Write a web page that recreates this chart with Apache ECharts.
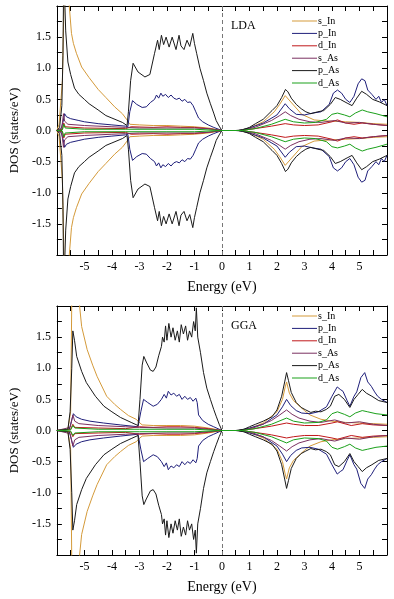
<!DOCTYPE html>
<html>
<head>
<meta charset="utf-8">
<script src="https://cdn.jsdelivr.net/npm/echarts@6/dist/echarts.min.js"></script>
<style>
html,body{margin:0;padding:0;background:#fff;}
#dosChart{width:394px;height:599px;}
</style>
</head>
<body>
<div id="dosChart"></div>
<script>
// names / colours of the partial DOS
var pdosNames=['s_In','p_In','d_In','s_As','p_As','d_As'];
var pdosColors=['#d49a3a','#1f1f7a','#c0181a','#7a3060','#1a1a1a','#1aa01a'];
var panelTitles=['LDA','GGA'];

// LDA, spin up  [energy, dos]
var lda_sIn=[[-6,0],[-5.92,0.1],[-5.8,0.8],[-5.72,2.5],[-5.62,2.6],[-5.55,2.0],[-5.47,1.56],[-5.4,1.4],[-5.29,1.24],[-5.1,1.02],[-4.83,0.85],[-4.5,0.66],[-4.22,0.53],[-3.9,0.38],[-3.62,0.27],[-3.45,0.17],[-3.35,0.1],[-3,0.09],[-2.5,0.08],[-2,0.08],[-1.5,0.07],[-1,0.06],[-0.5,0.04],[0,0],[0.6,0],[1.0,0.04],[1.5,0.14],[1.9,0.3],[2.1,0.42],[2.3,0.56],[2.6,0.41],[2.9,0.26],[3.35,0.17],[3.6,0.16],[4.0,0.15],[4.5,0.14],[5,0.13],[5.5,0.11],[6,0.1]];
var lda_pIn=[[-6,0],[-5.85,0.02],[-5.77,0.15],[-5.72,0.27],[-5.65,0.22],[-5.5,0.19],[-5.2,0.16],[-5,0.14],[-4.5,0.11],[-4,0.09],[-3.5,0.07],[-3.42,0.06],[-3.35,0.3],[-3.25,0.48],[-3.1,0.42],[-2.9,0.37],[-2.75,0.38],[-2.6,0.45],[-2.45,0.5],[-2.38,0.57],[-2.3,0.52],[-2.22,0.6],[-2.15,0.55],[-2.05,0.58],[-1.95,0.53],[-1.85,0.57],[-1.75,0.52],[-1.65,0.5],[-1.55,0.52],[-1.45,0.47],[-1.35,0.5],[-1.25,0.45],[-1.15,0.46],[-1.05,0.4],[-1.0,0.42],[-0.95,0.3],[-0.85,0.2],[-0.7,0.14],[-0.5,0.09],[-0.3,0.05],[0,0],[0.6,0],[1.0,0.04],[1.5,0.12],[2.0,0.25],[2.3,0.43],[2.45,0.35],[2.7,0.26],[3.0,0.25],[3.3,0.28],[3.6,0.3],[3.9,0.42],[4.05,0.6],[4.2,0.65],[4.35,0.6],[4.5,0.5],[4.65,0.45],[4.8,0.55],[4.95,0.75],[5.08,0.83],[5.2,0.8],[5.3,0.65],[5.45,0.58],[5.6,0.5],[5.7,0.55],[5.8,0.45],[5.9,0.5],[6,0.4]];
var lda_dIn=[[-6,0],[-5.8,0.02],[-5.75,0.12],[-5.7,0.06],[-5,0.04],[-3.5,0.03],[-3.3,0.06],[-2.5,0.05],[-2,0.06],[-1.5,0.05],[-1,0.05],[-0.5,0.03],[0,0],[0.7,0],[1.2,0.03],[1.8,0.07],[2.3,0.11],[2.6,0.09],[3,0.08],[3.5,0.09],[4,0.14],[4.2,0.17],[4.5,0.12],[4.8,0.1],[5.1,0.12],[5.5,0.1],[6,0.08]];
var lda_sAs=[[-6,0],[-5.82,0.05],[-5.76,0.27],[-5.72,0.15],[-5.6,0.1],[-5,0.08],[-4,0.06],[-3.5,0.05],[-3,0.04],[-2,0.04],[-1,0.04],[-0.5,0.03],[0,0],[0.7,0],[1.2,0.05],[1.8,0.16],[2.1,0.24],[2.3,0.3],[2.5,0.24],[2.8,0.18],[3.2,0.14],[3.6,0.13],[4.1,0.16],[4.5,0.12],[5,0.13],[5.5,0.1],[6,0.08]];
var lda_pAs=[[-6,0],[-5.9,0.05],[-5.82,0.4],[-5.78,1.2],[-5.75,2.6],[-5.72,2.6],[-5.68,1.6],[-5.6,1.1],[-5.5,0.9],[-5.36,0.68],[-5.2,0.58],[-5,0.5],[-4.83,0.43],[-4.5,0.33],[-4.22,0.24],[-4,0.2],[-3.62,0.13],[-3.45,0.08],[-3.4,0.3],[-3.32,0.8],[-3.23,1.08],[-3.05,0.94],[-2.8,0.86],[-2.62,0.9],[-2.45,1.24],[-2.34,1.45],[-2.28,1.3],[-2.2,1.53],[-2.12,1.38],[-2.03,1.5],[-1.92,1.34],[-1.81,1.5],[-1.67,1.3],[-1.56,1.53],[-1.49,1.36],[-1.38,1.3],[-1.27,1.45],[-1.17,1.35],[-1.06,1.56],[-1.0,1.4],[-0.92,1.24],[-0.8,1.0],[-0.67,0.8],[-0.55,0.6],[-0.42,0.43],[-0.3,0.28],[-0.21,0.16],[-0.1,0.07],[0,0],[0.5,0],[0.75,0.01],[1.0,0.05],[1.22,0.11],[1.5,0.18],[1.82,0.32],[2.0,0.4],[2.17,0.53],[2.31,0.66],[2.4,0.62],[2.52,0.52],[2.7,0.42],[2.88,0.35],[3.05,0.3],[3.23,0.27],[3.48,0.3],[3.7,0.32],[3.94,0.42],[4.12,0.53],[4.3,0.5],[4.55,0.44],[4.73,0.4],[4.9,0.52],[5.08,0.63],[5.26,0.58],[5.48,0.5],[5.72,0.46],[6,0.4]];
var lda_dAs=[[-6,0],[-5.8,0.01],[-5.75,0.1],[-5.7,0.04],[-5,0.02],[-3.5,0.02],[-2,0.02],[-1,0.02],[0,0],[0.7,0],[1.2,0.03],[1.8,0.1],[2.3,0.18],[2.6,0.14],[3.0,0.12],[3.4,0.13],[3.8,0.18],[4.0,0.26],[4.2,0.28],[4.45,0.25],[4.65,0.22],[4.85,0.28],[5.1,0.33],[5.3,0.3],[5.6,0.27],[6,0.22]];

// GGA, spin up  [energy, dos]
var gga_sIn=[[-6,0],[-5.6,0.02],[-5.5,0.3],[-5.45,2.5],[-5.4,2.6],[-5.3,2.6],[-5.22,2.2],[-5.1,1.67],[-4.9,1.3],[-4.7,1.05],[-4.54,0.87],[-4.19,0.55],[-3.9,0.42],[-3.69,0.34],[-3.4,0.24],[-3.12,0.18],[-2.98,0.12],[-2.9,0.09],[-2.5,0.08],[-2,0.08],[-1.5,0.08],[-1,0.07],[-0.5,0.04],[0,0],[0.6,0],[1.0,0.03],[1.5,0.12],[2.0,0.3],[2.2,0.5],[2.3,0.7],[2.35,0.78],[2.45,0.6],[2.6,0.48],[2.8,0.4],[3.0,0.32],[3.2,0.25],[3.6,0.18],[4,0.15],[4.5,0.13],[5,0.12],[5.5,0.11],[6,0.1]];
var gga_pIn=[[-6,0],[-5.55,0.02],[-5.47,0.15],[-5.4,0.27],[-5.3,0.22],[-5.1,0.18],[-4.8,0.15],[-4.3,0.12],[-3.7,0.09],[-3.05,0.06],[-2.95,0.3],[-2.85,0.5],[-2.7,0.45],[-2.5,0.39],[-2.35,0.42],[-2.2,0.5],[-2.1,0.58],[-2.02,0.52],[-1.95,0.63],[-1.85,0.57],[-1.75,0.6],[-1.65,0.55],[-1.55,0.58],[-1.45,0.5],[-1.35,0.55],[-1.25,0.5],[-1.15,0.53],[-1.05,0.47],[-0.95,0.52],[-0.9,0.45],[-0.85,0.25],[-0.7,0.16],[-0.5,0.1],[-0.3,0.06],[0,0],[0.6,0],[1.0,0.04],[1.5,0.1],[2.0,0.25],[2.2,0.38],[2.35,0.5],[2.5,0.4],[2.7,0.32],[2.9,0.28],[3.2,0.27],[3.5,0.3],[3.8,0.38],[4.0,0.55],[4.19,0.7],[4.3,0.66],[4.4,0.63],[4.55,0.48],[4.65,0.39],[4.8,0.55],[4.9,0.62],[5.05,0.85],[5.19,0.93],[5.3,0.78],[5.43,0.71],[5.55,0.62],[5.66,0.55],[5.8,0.5],[6,0.45]];
var gga_dIn=[[-6,0],[-5.5,0.02],[-5.42,0.1],[-5.35,0.05],[-4.5,0.04],[-3.5,0.03],[-3,0.06],[-2.5,0.05],[-2,0.06],[-1.5,0.06],[-1,0.05],[-0.5,0.03],[0,0],[0.7,0],[1.2,0.03],[1.8,0.07],[2.35,0.12],[2.6,0.1],[3,0.08],[3.5,0.08],[4,0.12],[4.2,0.14],[4.7,0.08],[5.1,0.11],[5.5,0.09],[6,0.08]];
var gga_sAs=[[-6,0],[-5.52,0.05],[-5.42,0.25],[-5.35,0.15],[-5.2,0.11],[-4.5,0.08],[-3.5,0.06],[-3,0.05],[-2,0.04],[-1,0.04],[0,0],[0.7,0],[1.2,0.05],[1.8,0.16],[2.1,0.25],[2.35,0.33],[2.55,0.26],[2.8,0.2],[3.2,0.15],[3.6,0.13],[4.1,0.17],[4.5,0.12],[5,0.14],[5.5,0.1],[6,0.08]];
var gga_pAs=[[-6,0],[-5.6,0.02],[-5.52,0.3],[-5.46,1.0],[-5.42,1.6],[-5.36,1.45],[-5.28,1.19],[-5.1,0.95],[-4.93,0.77],[-4.6,0.55],[-4.29,0.39],[-4.0,0.3],[-3.69,0.21],[-3.3,0.13],[-3.05,0.08],[-2.98,0.5],[-2.9,1.05],[-2.84,1.19],[-2.75,1.1],[-2.6,0.97],[-2.5,0.95],[-2.4,1.02],[-2.3,1.2],[-2.2,1.35],[-2.16,1.5],[-2.1,1.42],[-2.05,1.68],[-2.0,1.45],[-1.93,1.72],[-1.85,1.5],[-1.78,1.65],[-1.7,1.45],[-1.62,1.6],[-1.55,1.42],[-1.48,1.7],[-1.4,1.55],[-1.32,1.68],[-1.25,1.45],[-1.18,1.6],[-1.1,1.5],[-1.03,1.75],[-0.97,1.6],[-0.93,1.97],[-0.88,1.5],[-0.78,1.25],[-0.67,0.93],[-0.55,0.68],[-0.42,0.5],[-0.3,0.34],[-0.21,0.23],[-0.1,0.1],[0,0],[0.5,0],[0.8,0.02],[1.0,0.06],[1.22,0.1],[1.5,0.15],[1.82,0.22],[2.0,0.33],[2.17,0.55],[2.28,0.78],[2.35,0.93],[2.42,0.8],[2.52,0.61],[2.7,0.45],[2.88,0.37],[3.05,0.33],[3.23,0.29],[3.4,0.31],[3.6,0.3],[3.8,0.34],[3.94,0.39],[4.1,0.55],[4.25,0.58],[4.45,0.5],[4.65,0.37],[4.8,0.5],[4.95,0.58],[5.1,0.66],[5.25,0.6],[5.45,0.55],[5.7,0.48],[6,0.45]];
var gga_dAs=[[-6,0],[-5.5,0.01],[-5.42,0.08],[-5.35,0.04],[-4.5,0.02],[-3,0.02],[-2,0.02],[-1,0.02],[0,0],[0.7,0],[1.2,0.03],[1.8,0.1],[2.35,0.2],[2.6,0.15],[3.0,0.12],[3.5,0.13],[3.8,0.17],[4.0,0.27],[4.2,0.3],[4.45,0.26],[4.65,0.22],[4.85,0.28],[5.1,0.32],[5.3,0.3],[5.6,0.27],[6,0.25]];

var panelData=[
	[lda_sIn,lda_pIn,lda_dIn,lda_sAs,lda_pAs,lda_dAs],
	[gga_sIn,gga_pIn,gga_dIn,gga_sAs,gga_pAs,gga_dAs]
];

var serifFont='Liberation Serif';

initDosChart();

/**
 * spin down = mirror of spin up
 */
function spinDown(pts)
{
	var out=[];
	for(var i=0;i<pts.length;i++)
	{
		out.push([pts[i][0],-pts[i][1]]);
	}
	return out;
}

/**
 * two panels: LDA on top, GGA below
 */
function initDosChart()
{
	var myChart=echarts.init(document.getElementById('dosChart'));
	var grids=[
		{left:50,top:6,width:337,height:249},
		{left:50,top:306,width:337,height:249}
	];
	var xAxes=[],yAxes=[],series=[],legends=[],titles=[];
	for(var g=0;g<2;g++)
	{
		// bottom x axis with labels
		xAxes.push({
			gridIndex:g,type:'value',min:-6,max:6,interval:1,position:'bottom',
			name:'Energy (eV)',nameLocation:'middle',nameGap:25,
			nameTextStyle:{fontFamily:serifFont,fontSize:14,color:'#000'},
			axisLine:{onZero:false,lineStyle:{color:'#000',width:1}},
			axisTick:{inside:true,length:5,lineStyle:{color:'#000'}},
			minorTick:{show:true,splitNumber:2,length:5,lineStyle:{color:'#000'}},
			splitLine:{show:false},
			axisLabel:{margin:6,fontFamily:serifFont,fontSize:12,color:'#000',
				formatter:function(v){return (v<=-6||v>=6)?'':String(v);}}
		});
		// top x axis, ticks only
		xAxes.push({
			gridIndex:g,type:'value',min:-6,max:6,interval:1,position:'top',
			axisLine:{onZero:false,lineStyle:{color:'#000',width:1}},
			axisTick:{inside:true,length:5,lineStyle:{color:'#000'}},
			minorTick:{show:true,splitNumber:2,length:5,lineStyle:{color:'#000'}},
			splitLine:{show:false},axisLabel:{show:false}
		});
		yAxes.push({
			gridIndex:g,type:'value',min:-2,max:2,interval:0.5,position:'left',
			name:'DOS (states/eV)',nameLocation:'middle',nameGap:30,nameRotate:90,
			nameTextStyle:{fontFamily:serifFont,fontSize:13,color:'#000'},
			axisLine:{onZero:false,lineStyle:{color:'#000',width:1}},
			axisTick:{inside:true,length:5,lineStyle:{color:'#000'}},
			minorTick:{show:true,splitNumber:2,length:5,lineStyle:{color:'#000'}},
			splitLine:{show:false},
			axisLabel:{margin:6,fontFamily:serifFont,fontSize:12,color:'#000',
				formatter:function(v){return (v<=-2||v>=2)?'':v.toFixed(1);}}
		});
		yAxes.push({
			gridIndex:g,type:'value',min:-2,max:2,interval:0.5,position:'right',
			axisLine:{onZero:false,lineStyle:{color:'#000',width:1}},
			axisTick:{inside:true,length:5,lineStyle:{color:'#000'}},
			minorTick:{show:true,splitNumber:2,length:5,lineStyle:{color:'#000'}},
			splitLine:{show:false},axisLabel:{show:false}
		});
		for(var k=0;k<pdosNames.length;k++)
		{
			var up=panelData[g][k];
			var down=spinDown(up);
			var sets=[up,down];
			for(var s=0;s<2;s++)
			{
				var item={
					name:pdosNames[k],type:'line',xAxisIndex:g*2,yAxisIndex:g*2,
					data:sets[s],symbol:'none',smooth:false,
					lineStyle:{color:pdosColors[k],width:1},
					itemStyle:{color:pdosColors[k]},
					z:2+k
				};
				if(k==0&&s==0)
				{
					// Fermi level
					item.markLine={
						silent:true,symbol:['none','none'],label:{show:false},
						lineStyle:{color:'#777',type:[4,3],width:1},
						data:[{xAxis:0}]
					};
				}
				series.push(item);
			}
		}
		legends.push({
			left:287,top:grids[g].top+(g==0?5:0),orient:'vertical',
			icon:'rect',itemWidth:25,itemHeight:1,itemGap:2.4,
			data:pdosNames,
			textStyle:{fontFamily:serifFont,fontSize:10,lineHeight:10,color:'#000',padding:[0,0,0,-4]}
		});
		titles.push({
			text:panelTitles[g],left:226,top:grids[g].top+9,
			textStyle:{fontFamily:serifFont,fontSize:12,fontWeight:'normal',color:'#000'}
		});
	}
	var option={
		animation:false,
		backgroundColor:'#fff',
		title:titles,
		grid:grids,
		xAxis:xAxes,
		yAxis:yAxes,
		legend:legends,
		series:series
	};
	myChart.setOption(option);
}
</script>
</body>
</html>
